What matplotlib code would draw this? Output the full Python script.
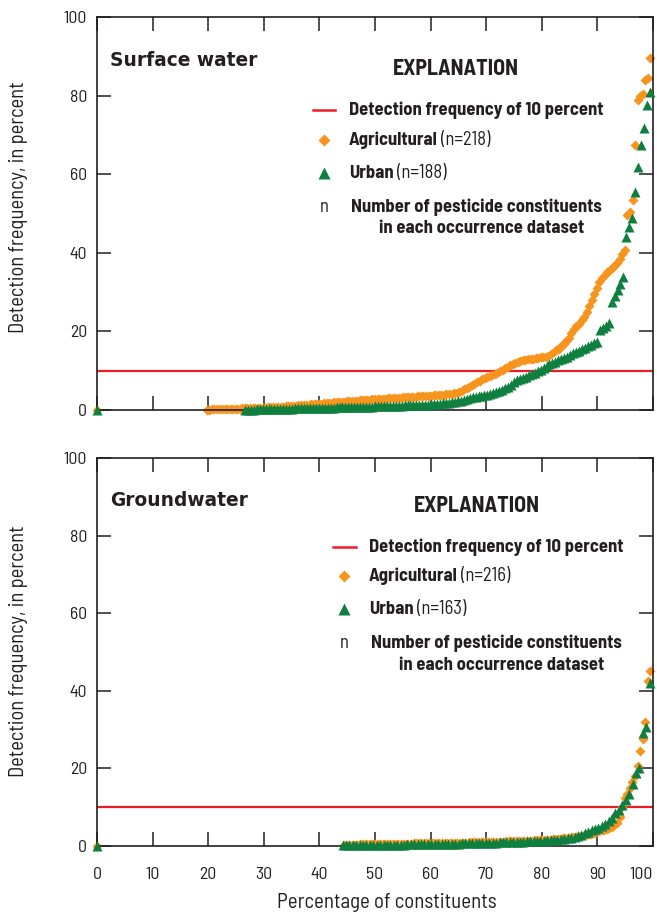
import numpy as np
import matplotlib
matplotlib.use("Agg")
import matplotlib.pyplot as plt
from matplotlib.lines import Line2D

plt.rcParams['font.family'] = ['Barlow Semi Condensed', 'DejaVu Sans']

# detection frequencies (percent) of constituents with at least one detection, sorted
# surface water, agricultural sites (n=218, 43 never detected)
sw_agri = [
    0.10, 0.12, 0.14, 0.16, 0.18, 0.20, 0.22, 0.24, 0.26, 0.28, 0.30, 0.32,
    0.35, 0.37, 0.40, 0.42, 0.45, 0.48, 0.50, 0.53, 0.55, 0.58, 0.60,
    0.63, 0.66, 0.70, 0.73, 0.77, 0.80, 0.84, 0.88, 0.92, 0.96, 1.00,
    1.05, 1.10, 1.15, 1.20, 1.26, 1.32, 1.38, 1.44, 1.50, 1.55, 1.60,
    1.65, 1.70, 1.76, 1.82, 1.88, 1.94, 2.00, 2.05, 2.10, 2.15, 2.20,
    2.25, 2.30, 2.35, 2.40, 2.45, 2.50, 2.55, 2.60, 2.64, 2.68, 2.72,
    2.76, 2.80, 2.85, 2.90, 2.95, 3.00, 3.05, 3.10, 3.14, 3.18, 3.22,
    3.26, 3.30, 3.34, 3.38, 3.42, 3.46, 3.50, 3.54, 3.58, 3.62, 3.66,
    3.70, 3.75, 3.80, 3.85, 3.90, 3.95, 4.00,
    4.15, 4.30, 4.45, 4.60, 4.9, 5.3, 5.6, 5.9,
    6.3, 6.7, 7.1, 7.5, 7.8, 8.1, 8.4, 8.7, 9.0, 9.2, 9.4,
    9.8, 10.2, 10.6, 11.0, 11.4, 11.8, 12.0,
    12.2, 12.4, 12.6, 12.8, 12.9, 13.0, 13.1, 13.2, 13.3, 13.4, 13.5, 13.6, 13.8,
    14.2, 14.7, 15.2, 15.6, 16.2, 16.9, 17.6, 18.3, 19.5, 20.5, 21.3,
    22.0, 22.8, 23.7, 25.0, 26.5, 28.0, 29.5, 31.0, 32.5, 33.5, 34.3, 35.0,
    35.6, 36.2, 36.8, 37.4, 38.5, 39.8, 40.8,
    49.5, 50.5, 53.4, 67.5, 79.0, 80.0, 80.5, 84.0, 84.5, 89.5,
]
# surface water, urban sites (n=188, 50 never detected)
sw_urban = [
    0.05, 0.07, 0.09, 0.11, 0.13, 0.15, 0.17,
    0.19, 0.21, 0.23, 0.25, 0.27, 0.29, 0.31, 0.33, 0.35, 0.37, 0.39, 0.41,
    0.43, 0.45, 0.47, 0.48, 0.49, 0.50, 0.52,
    0.54, 0.56, 0.58, 0.60, 0.62, 0.64, 0.66, 0.68, 0.70, 0.72, 0.74, 0.76,
    0.78, 0.80, 0.82, 0.84, 0.86, 0.88, 0.90,
    0.92, 0.95, 0.98, 1.00, 1.03, 1.05, 1.08, 1.10, 1.13, 1.15, 1.18, 1.20,
    1.23, 1.25, 1.28, 1.30, 1.33, 1.36, 1.40,
    1.45, 1.52, 1.60, 1.68, 1.78, 1.90, 2.0, 2.1, 2.2, 2.35, 2.5, 2.7,
    3.0, 3.2, 3.4, 3.5, 3.6, 3.75, 3.9, 4.1, 4.3, 4.5, 4.8,
    5.1, 5.5, 5.9, 6.4, 7.0, 7.6, 7.9, 8.2, 8.5, 8.8,
    9.1, 9.4, 9.8, 10.2, 10.7, 11.2, 11.6, 12.0, 12.3, 12.6, 12.9, 13.2,
    13.6, 14.0, 14.4, 14.8, 15.1, 15.4, 15.8, 16.2, 16.6, 17.0, 17.2,
    20.4, 20.8, 21.3, 22.1, 27.5, 29.0, 30.5, 32.0, 33.8,
    44.0, 46.6, 48.9, 55.5, 61.8, 67.4, 71.8, 77.6, 81.0,
]
# groundwater, agricultural sites (n=216, 96 never detected)
gw_agri = [
    0.30, 0.31, 0.33, 0.34, 0.36, 0.37, 0.39, 0.40, 0.42, 0.43, 0.45, 0.47, 0.50,
    0.51, 0.52, 0.53, 0.54, 0.55, 0.56, 0.57, 0.58, 0.59, 0.60, 0.61, 0.62,
    0.63, 0.64, 0.65, 0.66, 0.67, 0.68, 0.69, 0.695, 0.70, 0.705,
    0.72, 0.73, 0.74, 0.75, 0.77, 0.78, 0.80, 0.81, 0.83, 0.84, 0.86, 0.87,
    0.89, 0.90, 0.92, 0.93, 0.95, 0.96, 0.97, 0.98, 1.00,
    1.02, 1.04, 1.06, 1.08, 1.10, 1.12, 1.14, 1.16, 1.18, 1.20, 1.22, 1.24,
    1.26, 1.28, 1.30, 1.33, 1.36, 1.39, 1.42, 1.45, 1.48, 1.50,
    1.55, 1.60, 1.65, 1.70, 1.77, 1.84, 1.91, 1.98, 2.05, 2.12, 2.20,
    2.3, 2.4, 2.5, 2.6, 2.75, 2.9, 3.05, 3.2, 3.4, 3.6, 3.8,
    4.0, 4.2, 4.4, 4.6, 5.0, 5.4, 5.8,
    7.5, 10.0, 12.5, 13.5, 15.0, 16.5, 18.0, 20.5, 24.5,
    27.5, 32.0, 42.5, 45.2,
]
# groundwater, urban sites (n=163, 72 never detected)
gw_urban = [
    0.20, 0.21, 0.22, 0.23, 0.24, 0.25, 0.26, 0.27, 0.28, 0.29,
    0.30, 0.31, 0.32, 0.33, 0.34, 0.35, 0.36, 0.37, 0.38, 0.39, 0.40, 0.42,
    0.44, 0.46, 0.48, 0.50,
    0.52, 0.54, 0.56, 0.58, 0.60, 0.61, 0.62, 0.63, 0.64, 0.66, 0.68, 0.70,
    0.72, 0.74, 0.76, 0.78, 0.80,
    0.83, 0.86, 0.89, 0.92, 0.95, 0.98, 1.01, 1.04, 1.07, 1.10, 1.13, 1.16,
    1.20, 1.23, 1.26, 1.30,
    1.36, 1.42, 1.50, 1.58, 1.66, 1.75, 1.85, 1.95,
    2.1, 2.3, 2.6, 2.9, 3.3, 3.7, 4.0, 4.3, 4.7, 5.1,
    5.6, 6.4, 7.3, 8.5, 9.4, 10.5, 11.8,
    13.5, 16.1, 18.7, 20.0, 29.1, 30.6, 42.0,
]

panels = [
    ("Surface water", sw_agri, 218, sw_urban, 188),
    ("Groundwater", gw_agri, 216, gw_urban, 163),
]

ORANGE = "#F7941D"
GREEN = "#0F7F3F"
RED = "#ED1C24"
INK = "#231F20"

W, H = 657, 915
fig = plt.figure(figsize=(W / 100, H / 100), dpi=100)


def fx(px):
    return px / W


def fy(py):
    return 1 - py / H


def positions(vals, n):
    # percentage of constituents with a lower detection frequency
    vals = np.sort(np.asarray(vals, dtype=float))
    n_zero = n - len(vals)
    x = (n_zero + np.arange(len(vals))) / n * 100
    return np.concatenate([[0.0], x]), np.concatenate([[0.0], vals])


# axes boxes in pixels: left, top, right, bottom
boxes = [(97, 17, 653, 410), (97, 458, 653, 846)]
axes = []
for (l, t, r, b) in boxes:
    ax = fig.add_axes([fx(l), fy(b), (r - l) / W, (b - t) / H])
    axes.append(ax)

for i, (ax, (name, agri, n_a, urb, n_u)) in enumerate(zip(axes, panels)):
    ax.axhline(10, color=RED, lw=1.6, zorder=1)
    xa, ya = positions(agri, n_a)
    xu, yu = positions(urb, n_u)
    ax.plot(xa, ya, ls="none", marker="D", ms=5.6, color=ORANGE, mec="none",
            clip_on=False, zorder=2)
    ax.plot(xu, yu, ls="none", marker="^", ms=7.5, color=GREEN, mec="none",
            clip_on=False, zorder=3)
    ax.set_xlim(0, 100)
    ax.set_ylim(0, 100)
    ax.set_xticks(np.arange(0, 101, 10))
    ax.set_yticks(np.arange(0, 101, 20))
    ax.tick_params(direction="in", length=10, width=1.1, color=INK,
                   top=True, right=True, labelsize=12.8, labelcolor=INK, pad=7)
    for s in ax.spines.values():
        s.set_color(INK)
        s.set_linewidth(1.2)
    if i == 0:
        ax.tick_params(labelbottom=False)
    else:
        ax.tick_params(axis="x", pad=15)
        labels = ax.set_xticklabels([str(v) for v in range(0, 101, 10)])
        labels[-1].set_ha("right")
        labels[-1].set_x(100.6)

# panel titles, y labels
for name_y, name in ((61, "Surface water"), (500, "Groundwater")):
    fig.text(fx(110), fy(name_y), name, fontsize=13.4, weight="bold",
             family="DejaVu Sans", color=INK, va="center", ha="left")
for yc in (207, 651):
    fig.text(fx(19), fy(yc), "Detection frequency, in percent", rotation=90,
             fontsize=14.8, color=INK, ha="center", va="center")
fig.text(fx(387), fy(903), "Percentage of constituents", fontsize=15,
         color=INK, ha="center", va="center")

# explanation blocks (pixel positions)
legends = [
    dict(title=(456, 69), line=(313, 335, 110), text_x=349, rows=(110, 140, 173, 207),
         sym_x=324, second=(482, 229), n_a=218, n_u=188),
    dict(title=(477, 506), line=(333, 356, 547), text_x=369, rows=(547, 576, 609, 643),
         sym_x=344, second=(502, 666), n_a=216, n_u=163),
]

fig.canvas.draw()
renderer = fig.canvas.get_renderer()
fs = 13.4
for lg in legends:
    fig.text(fx(lg["title"][0]), fy(lg["title"][1]), "EXPLANATION", fontsize=15.8,
             weight="bold", color=INK, ha="center", va="center")
    x0, x1, yl = lg["line"]
    fig.add_artist(Line2D([fx(x0), fx(x1)], [fy(yl), fy(yl)], color=RED, lw=1.8,
                          transform=fig.transFigure))
    r = lg["rows"]
    tx = lg["text_x"]
    fig.text(fx(tx), fy(r[0]), "Detection frequency of 10 percent", fontsize=fs,
             weight="bold", color=INK, va="center")
    fig.add_artist(Line2D([fx(lg["sym_x"])], [fy(r[1])], ls="none", marker="D", ms=6.5,
                          color=ORANGE, mec="none", transform=fig.transFigure))
    fig.add_artist(Line2D([fx(lg["sym_x"])], [fy(r[2])], ls="none", marker="^", ms=8.5,
                          color=GREEN, mec="none", transform=fig.transFigure))
    for row, bold, reg in ((r[1], "Agricultural", "(n=%d)" % lg["n_a"]),
                           (r[2], "Urban", "(n=%d)" % lg["n_u"])):
        t = fig.text(fx(tx), fy(row), bold, fontsize=fs, weight="bold",
                     color=INK, va="center")
        bb = t.get_window_extent(renderer)
        fig.text(fx(bb.x1 + 3), fy(row), reg, fontsize=fs, color=INK, va="center")
    fig.text(fx(lg["sym_x"]), fy(r[3]), "n", fontsize=fs, color=INK,
             ha="center", va="center")
    fig.text(fx(tx + 2), fy(r[3]), "Number of pesticide constituents", fontsize=fs,
             weight="bold", color=INK, va="center")
    fig.text(fx(lg["second"][0]), fy(lg["second"][1]), "in each occurrence dataset",
             fontsize=fs, weight="bold", color=INK, ha="center", va="center")

fig.savefig("out.png", dpi=100)
